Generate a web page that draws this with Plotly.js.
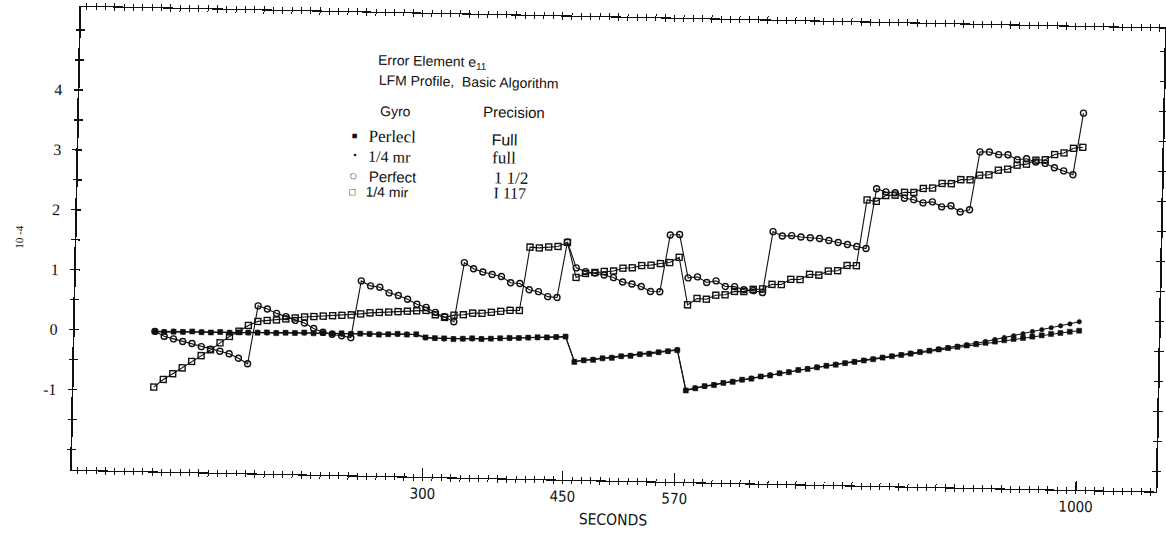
<!DOCTYPE html>
<html><head><meta charset="utf-8">
<script src="https://cdn.plot.ly/plotly-3.0.1.min.js"></script>
<style>
html,body{margin:0;padding:0;background:#fff;overflow:hidden;}
#chart{width:1166px;height:537px;transform:rotate(1.15deg);transform-origin:583px 268px;}
</style>
</head><body><div id="chart"></div>
<script>
const seconds = [10,20,30,40,50,60,70,80,90,100,110,120,130,140,150,160,170,180,190,200,
210,220,230,240,250,260,270,280,290,300,310,320,330,340,350,360,370,380,390,400,
410,420,430,440,450,460,470,480,490,500,510,520,530,540,550,560,570,580,590,600,
610,620,630,640,650,660,670,680,690,700,710,720,730,740,750,760,770,780,790,800,
810,820,830,840,850,860,870,880,890,900,910,920,930,940,950,960,970,980,990,1000];

// Perfect gyro, full precision
const perfectFull = [0.00,-0.01,0.00,0.00,0.01,0.00,0.00,0.01,0.00,0.01,
0.01,0.01,0.02,0.01,0.02,0.02,0.03,0.02,0.03,0.02,
0.03,0.02,0.03,0.03,0.02,0.03,0.04,0.03,0.04,-0.01,
-0.02,-0.02,-0.03,-0.02,-0.01,-0.02,-0.01,0.00,0.01,0.01,
0.02,0.03,0.03,0.04,0.05,-0.37,-0.34,-0.33,-0.30,-0.29,
-0.26,-0.25,-0.22,-0.21,-0.18,-0.16,-0.14,-0.81,-0.77,-0.73,
-0.71,-0.67,-0.65,-0.61,-0.59,-0.55,-0.53,-0.49,-0.47,-0.43,
-0.41,-0.38,-0.35,-0.33,-0.30,-0.275,-0.25,-0.225,-0.195,-0.17,
-0.145,-0.12,-0.09,-0.065,-0.04,-0.015,0.01,0.035,0.06,0.085,
0.11,0.135,0.16,0.18,0.205,0.23,0.255,0.275,0.30,0.32];

// 1/4 mr gyro, full precision
const quarterMrFull = [0.00,0.00,0.01,0.00,0.01,0.01,0.00,0.01,0.01,0.01,
0.01,0.02,0.01,0.02,0.02,0.02,0.02,0.03,0.02,0.03,
0.02,0.03,0.03,0.02,0.03,0.03,0.03,0.04,0.03,-0.02,
-0.02,-0.03,-0.02,-0.02,-0.02,-0.01,-0.01,0.00,0.00,0.01,
0.02,0.02,0.03,0.04,0.05,-0.36,-0.34,-0.32,-0.30,-0.28,
-0.26,-0.24,-0.22,-0.20,-0.18,-0.16,-0.13,-0.80,-0.76,-0.73,
-0.70,-0.67,-0.64,-0.61,-0.58,-0.55,-0.52,-0.49,-0.46,-0.43,
-0.40,-0.375,-0.35,-0.32,-0.295,-0.27,-0.245,-0.22,-0.19,-0.165,
-0.14,-0.11,-0.085,-0.06,-0.03,-0.005,0.02,0.05,0.075,0.11,
0.145,0.18,0.215,0.25,0.29,0.325,0.36,0.395,0.43,0.47];

// Perfect gyro, 1 1/2 precision
const perfectHalf = [0.00,-0.08,-0.12,-0.16,-0.19,-0.24,-0.28,-0.31,-0.35,-0.42,
-0.51,0.46,0.41,0.34,0.29,0.23,0.19,0.10,0.04,0.01,
-0.01,-0.04,0.91,0.83,0.81,0.72,0.68,0.62,0.54,0.49,
0.41,0.34,0.26,1.25,1.15,1.10,1.06,1.03,0.93,0.92,
0.82,0.79,0.71,0.70,1.63,1.20,1.14,1.12,1.09,1.05,
0.98,0.95,0.91,0.83,0.83,1.78,1.79,1.07,1.09,1.00,
1.03,0.94,0.94,0.89,0.88,0.85,1.87,1.80,1.81,1.79,
1.78,1.77,1.74,1.71,1.68,1.65,1.62,2.62,2.57,2.56,
2.47,2.45,2.40,2.42,2.34,2.36,2.26,2.30,3.27,3.27,
3.23,3.23,3.15,3.17,3.12,3.10,3.03,2.98,2.92,3.95];

// 1/4 mr gyro, 1 1/2 precision
const quarterMrHalf = [-0.93,-0.80,-0.70,-0.60,-0.49,-0.39,-0.29,-0.17,-0.06,0.03,
0.13,0.20,0.22,0.23,0.25,0.27,0.29,0.30,0.31,0.32,
0.33,0.34,0.36,0.38,0.39,0.40,0.41,0.42,0.43,0.44,
0.37,0.33,0.37,0.38,0.41,0.41,0.43,0.45,0.47,0.47,
1.53,1.52,1.54,1.55,1.62,1.04,1.11,1.13,1.15,1.16,
1.21,1.22,1.26,1.27,1.30,1.32,1.41,0.62,0.73,0.72,
0.79,0.80,0.86,0.86,0.90,0.91,0.99,0.99,1.08,1.08,
1.17,1.16,1.23,1.24,1.33,1.33,2.43,2.41,2.51,2.52,
2.57,2.57,2.64,2.65,2.73,2.73,2.80,2.80,2.88,2.89,
2.97,2.99,3.06,3.08,3.15,3.16,3.25,3.28,3.36,3.38];

const xTickVals = [300,450,570,1000];
const xTickText = ['300','450','570','1000'];
const yLabelVals = [-1,0,1,2,3,4];
const yLabelText = ['-1','0','1','2','3','4'];
const yHalfVals = [-2,-1.5,-0.5,0.5,1.5,2.5,3.5,4.5,5];
const yAllVals = [-2,-1.5,-1,-0.5,0,0.5,1,1.5,2,2.5,3,3.5,4,4.5,5];

const SANS_N = 'Liberation Sans Narrow, DejaVu Sans Condensed, Arial Narrow, sans-serif';
const SANS = 'Liberation Sans, Arial, sans-serif';
const SERIF = 'Liberation Serif, Times New Roman, serif';
const INK = '#111';

function series(y, symbol, size, lw) {
  return {x: seconds, y: y, type: 'scatter', mode: 'lines+markers',
    line: {color: INK, width: 1.1},
    marker: {symbol: symbol, size: size, color: INK, line: {color: INK, width: lw}},
    showlegend: false, hoverinfo: 'skip'};
}

// empty traces so the overlaid tick-only axes are created
function axisHolder(xa, ya) {
  return {x: [], y: [], type: 'scatter', mode: 'markers', xaxis: xa, yaxis: ya,
    showlegend: false, hoverinfo: 'skip'};
}

const traces = [
  series(perfectFull, 'square', 5, 0.5),
  series(quarterMrFull, 'circle', 4.5, 0.5),
  series(perfectHalf, 'circle-open', 6, 1.4),
  series(quarterMrHalf, 'square-open', 6, 1.4),
  axisHolder('x2', 'y2'),
  axisHolder('x3', 'y3')
];

const xr = [-76, 1085.4];
const yr = [-2.337, 5.387];

function note(x, y, text, family, size, extra) {
  return Object.assign({x: x, y: y, xref: 'x', yref: 'y', text: text, showarrow: false,
    xanchor: 'left', yanchor: 'middle', font: {family: family, size: size, color: INK}}, extra || {});
}

const annotations = [
  note(241.5, 4.59, 'Error Element e<sub>11</sub>', SANS, 14),
  note(241.9, 4.265, 'LFM Profile,  Basic Algorithm', SANS, 14),
  note(244.3, 3.76, 'Gyro', SANS, 14),
  note(355.1, 3.785, 'Precision', SANS, 15),
  note(219.5, 3.33, '▪', 'DejaVu Sans', 9, {xanchor: 'center'}),
  note(220.5, 2.995, '•', 'DejaVu Sans', 9, {xanchor: 'center'}),
  note(219.5, 2.665, '○', 'DejaVu Sans', 8, {xanchor: 'center'}),
  note(218.5, 2.395, '□', 'DejaVu Sans', 8, {xanchor: 'center'}),
  note(232.4, 3.327, 'Perlecl', SERIF, 17),
  note(232.8, 2.993, '1/4 mr', SERIF, 16),
  note(233.2, 2.66, 'Perfect', SANS, 15),
  note(229.9, 2.393, '1/4 mir', SANS, 14),
  note(364.5, 3.31, 'Full', SANS, 16),
  note(365.0, 3.01, 'full', SERIF, 17),
  note(367.2, 2.678, '1 1/2', SERIF, 17),
  note(367.5, 2.423, 'I 117', SERIF, 16)
];

const plain = {showgrid: false, zeroline: false, automargin: false};

const layout = {
  width: 1166, height: 537,
  margin: {l: 76, r: 6, t: 17, b: 57, pad: 0},
  paper_bgcolor: '#fff', plot_bgcolor: '#fff',
  showlegend: false,
  xaxis: Object.assign({range: xr, tickmode: 'array', tickvals: xTickVals, ticktext: xTickText,
    ticks: 'inside', ticklen: 9, tickwidth: 1.2, tickcolor: INK, showline: false,
    tickfont: {family: SANS_N, size: 15, color: INK}, ticklabelstandoff: 6,
    title: {text: 'SECONDS', font: {family: SANS_N, size: 15.5, color: INK}, standoff: 8}}, plain),
  xaxis2: Object.assign({overlaying: 'x', anchor: 'y2', side: 'bottom', range: xr,
    tickmode: 'linear', tick0: 0, dtick: 10, ticks: 'outside', ticklen: 3, tickwidth: 1, tickcolor: INK,
    showline: true, linecolor: INK, linewidth: 1.2, mirror: 'ticks', showticklabels: false}, plain),
  xaxis3: Object.assign({overlaying: 'x', anchor: 'y3', side: 'bottom', range: xr,
    tickmode: 'linear', tick0: 0, dtick: 10, ticks: 'inside', ticklen: 3, tickwidth: 1, tickcolor: INK,
    showline: false, mirror: 'ticks', showticklabels: false}, plain),
  yaxis: Object.assign({range: yr, tickmode: 'array', tickvals: yLabelVals, ticktext: yLabelText,
    ticks: 'outside', ticklen: 4, tickwidth: 1.3, tickcolor: INK,
    showline: true, linecolor: INK, linewidth: 1.8, mirror: 'ticks',
    tickfont: {family: SERIF, size: 16, color: INK}, ticklabelstandoff: 8,
    title: {text: '10 -4', font: {family: SERIF, size: 11, color: INK}, standoff: 20}}, plain),
  yaxis2: Object.assign({overlaying: 'y', anchor: 'x2', side: 'left', range: yr,
    tickmode: 'array', tickvals: yAllVals, ticks: 'inside', ticklen: 4, tickwidth: 1.3, tickcolor: INK,
    showline: false, mirror: 'ticks', showticklabels: false}, plain),
  yaxis3: Object.assign({overlaying: 'y', anchor: 'x3', side: 'left', range: yr,
    tickmode: 'array', tickvals: yHalfVals, ticks: 'outside', ticklen: 4, tickwidth: 1.3, tickcolor: INK,
    showline: false, mirror: 'ticks', showticklabels: false}, plain),
  annotations: annotations
};

Plotly.newPlot('chart', traces, layout, {displayModeBar: false, staticPlot: true});
</script>
</body></html>
